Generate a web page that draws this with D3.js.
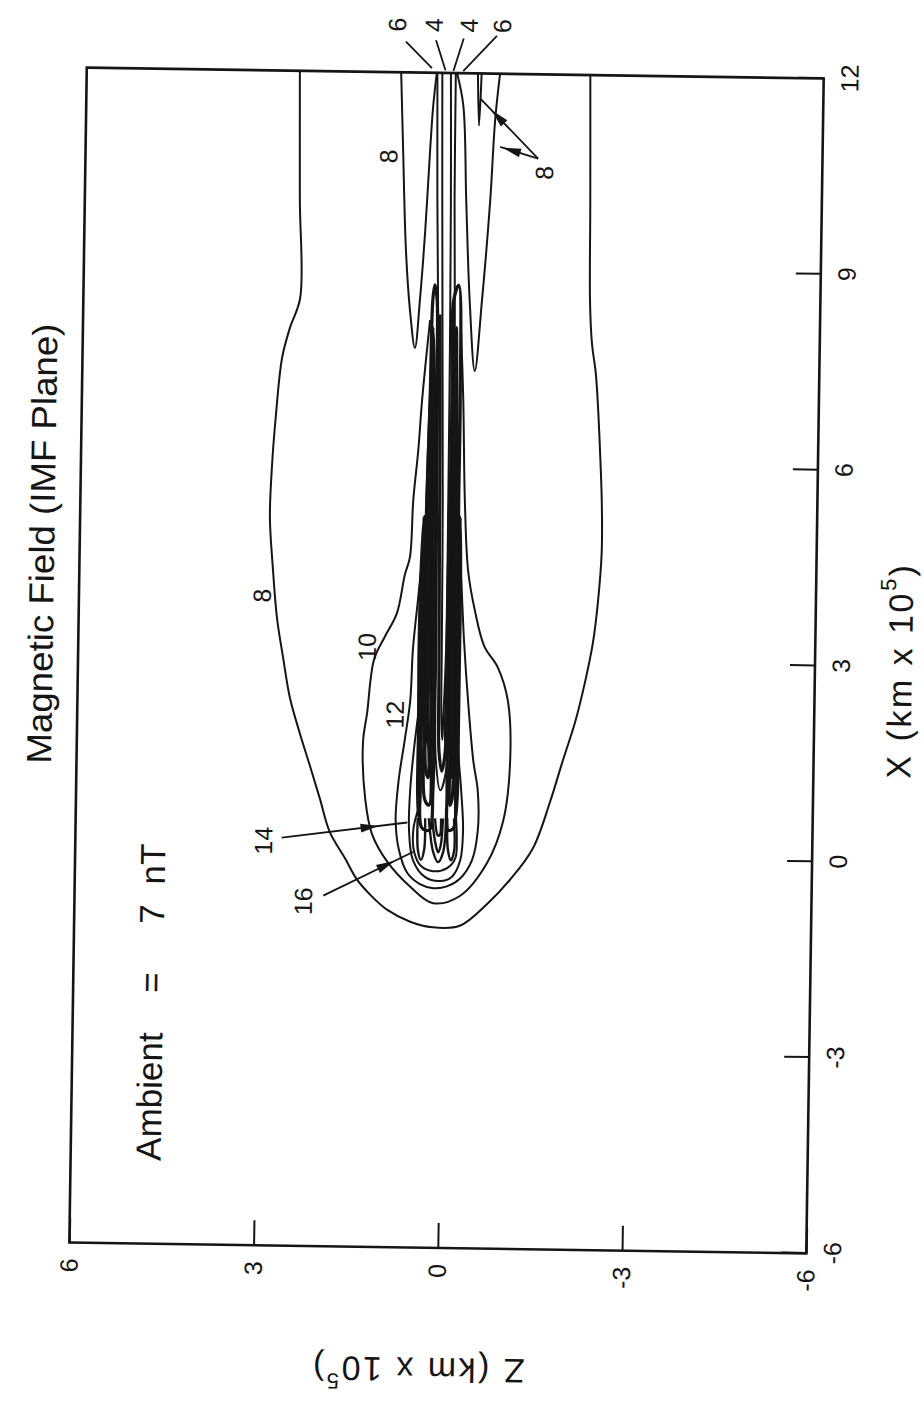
<!DOCTYPE html>
<html>
<head>
<meta charset="utf-8">
<script src="https://cdn.jsdelivr.net/npm/d3@7"></script>
<style>
  body { margin: 0; background: #fff; }
  svg { display: block; }
  text { font-family: "Liberation Sans", Arial, Helvetica, sans-serif; fill: #151515; }
</style>
</head>
<body>
<svg id="chart" width="924" height="1403"></svg>
<script>
// ---- axes ----
const xDomain = [-6, 12];          // X (km x 10^5)
const zDomain = [-6, 6];           // Z (km x 10^5)
const xTicks = [-6, -3, 0, 3, 6, 9, 12];
const zTicks = [-6, -3, 0, 3, 6];

// ---- contour lines of |B| (nT), points are [X, Z] ----
const c8Outer = [[12,2.53],[10.05,2.50],[8.52,2.47],[8.06,2.63],[7.60,2.75],[6.68,2.84],[5.91,2.89],[5.15,2.91],[4.38,2.85],[3.61,2.77],[3.00,2.66],[2.39,2.54],[1.85,2.37],[1.36,2.20],[0.86,2.03],[0.35,1.86],[-0.06,1.60],[-0.37,1.41],[-0.63,1.16],[-0.83,0.91],[-1.01,0.53],[-1.09,0.16],[-1.06,-0.28],[-0.72,-0.72],[-0.34,-1.09],[0.14,-1.45],[0.86,-1.72],[1.47,-1.91],[2.09,-2.11],[2.70,-2.26],[3.31,-2.38],[3.92,-2.45],[4.69,-2.50],[5.45,-2.49],[6.22,-2.45],[6.99,-2.40],[7.44,-2.36],[7.90,-2.29],[8.52,-2.25],[10.05,-2.23],[12,-2.20]];
const c8SpikeL = [[12,0.88],[10.82,0.83],[9.28,0.76],[8.36,0.68],[7.78,0.59],[8.52,0.52],[9.59,0.45],[10.82,0.39],[11.5,0.35],[12,0.30]];
const c8SpikeR = [[12,-0.03],[11.5,-0.14],[10.05,-0.21],[8.52,-0.29],[7.44,-0.39],[8.52,-0.49],[10.05,-0.60],[11.27,-0.66],[12,-0.73]];
const c8Small = [[12,-0.37],[11.2,-0.40],[12,-0.43]];
const c6 = [[12,0.29],[10.05,0.26],[7.75,0.21],[5.45,0.19],[3.16,0.17],[1.47,0.15],[1.01,0.07],[1.32,-0.02],[3.16,-0.05],[5.45,-0.07],[7.75,-0.06],[10.05,-0.02],[12,-0.01]];
const c5 = [[8.3,0.19],[6.5,0.16],[4.5,0.14],[2.8,0.12],[1.6,0.10],[1.3,0.05],[1.6,0.00],[2.8,-0.02],[4.5,-0.03],[6.5,-0.03],[8.3,-0.02]];
const c4 = [[12,0.21],[10.05,0.18],[7.75,0.14],[5.45,0.10],[3.16,0.08],[2.08,0.07],[1.78,0.05],[2.08,0.04],[3.16,0.01],[5.45,0.01],[7.75,0.02],[10.05,0.04],[12,0.07]];
// these wrap the nose and run back into the tail sheet
const c10 = [[8.21,0.35],[6.99,0.46],[6.22,0.51],[5.45,0.58],[4.58,0.62],[4.30,0.70],[3.71,0.82],[3.35,1.01],[3.00,1.18],[2.18,1.28],[1.73,1.34],[0.86,1.29],[0.32,1.17],[-0.09,0.92],[-0.47,0.54],[-0.72,0.16],[-0.60,-0.28],[-0.09,-0.71],[0.55,-0.96],[1.47,-1.06],[2.39,-1.01],[2.90,-0.84],[3.23,-0.61],[3.77,-0.45],[4.38,-0.33],[5.45,-0.26],[6.99,-0.21],[8.21,-0.15]];
const c12 = [[4.69,0.41],[3.92,0.48],[3.16,0.55],[2.39,0.58],[1.78,0.66],[1.16,0.75],[0.55,0.79],[0.09,0.73],[-0.26,0.59],[-0.43,0.38],[-0.49,0.16],[-0.46,-0.06],[-0.34,-0.27],[-0.06,-0.46],[0.40,-0.55],[1.01,-0.54],[1.47,-0.46],[2.39,-0.36],[3.31,-0.28],[4.23,-0.22],[4.69,-0.18]];
const c14 = [[2.39,0.42],[1.62,0.51],[1.01,0.56],[0.40,0.57],[-0.06,0.50],[-0.32,0.30],[-0.38,0.05],[-0.31,-0.14],[-0.06,-0.27],[0.40,-0.31],[1.01,-0.27],[1.62,-0.21],[2.39,-0.16]];
const c16 = [[0.70,0.43],[0.40,0.50],[0.06,0.48],[-0.15,0.37],[-0.23,0.17],[-0.18,-0.06],[-0.03,-0.19],[0.28,-0.21],[0.63,-0.19]];
// lobes of strong field either side of the tail current sheet
const lobeLA = [[8.75,0.28],[8.52,0.31],[6.99,0.33],[5.45,0.36],[3.92,0.38],[2.39,0.39],[1.01,0.40],[0.43,0.36],[0.40,0.24],[1.01,0.19],[2.39,0.19],[3.92,0.20],[5.45,0.23],[6.99,0.23],[8.52,0.24]];
const lobeLB = [[8.1,0.30],[7.29,0.32],[5.91,0.35],[4.53,0.36],[3.16,0.35],[1.78,0.35],[0.86,0.32],[0.78,0.25],[1.78,0.23],[3.16,0.26],[4.53,0.26],[5.91,0.27],[7.29,0.27]];
const lobeLC = [[7.4,0.28],[6.5,0.30],[5.45,0.33],[3.92,0.33],[2.39,0.33],[1.3,0.31],[1.2,0.27],[2.39,0.29],[3.92,0.29],[5.45,0.28],[6.5,0.26]];
const lobeLD = [[6.6,0.25],[5.6,0.27],[4.5,0.30],[3.0,0.31],[1.8,0.30],[1.6,0.22],[3.0,0.22],[4.5,0.22],[5.6,0.21]];
const lobeLE = [[5.2,0.40],[4.2,0.44],[3.0,0.45],[2.0,0.44],[1.0,0.44],[0.6,0.42],[1.0,0.40],[2.0,0.41],[3.0,0.41],[4.2,0.41]];
const lobeRA = [[8.75,-0.11],[6.99,-0.16],[5.45,-0.16],[3.92,-0.17],[2.39,-0.18],[1.01,-0.19],[0.43,-0.15],[0.40,-0.07],[1.01,-0.04],[2.39,-0.03],[3.92,-0.03],[5.45,-0.02],[6.99,-0.03],[8.52,-0.03]];
const lobeRB = [[8.1,-0.08],[7.29,-0.10],[5.91,-0.13],[4.53,-0.13],[3.16,-0.14],[1.78,-0.14],[0.86,-0.12],[0.78,-0.09],[1.78,-0.08],[3.16,-0.07],[4.53,-0.07],[5.91,-0.06],[7.29,-0.05]];
const lobeRC = [[7.4,-0.08],[6.5,-0.09],[5.45,-0.11],[3.92,-0.11],[2.39,-0.12],[1.3,-0.11],[1.2,-0.09],[2.39,-0.09],[3.92,-0.08],[5.45,-0.08],[6.5,-0.06]];
const lobeRD = [[6.6,-0.12],[5.6,-0.14],[4.5,-0.15],[3.0,-0.16],[1.8,-0.16],[1.6,-0.04],[3.0,-0.01],[4.5,-0.01],[5.6,-0.02]];
const lobeRE = [[5.2,-0.19],[4.2,-0.21],[3.0,-0.21],[2.0,-0.21],[1.0,-0.21],[0.6,-0.19],[1.0,-0.18],[2.0,-0.18],[3.0,-0.18],[4.2,-0.18]];
// nested peaks just behind the nose
const f18L = [[0.58,0.43],[0.09,0.42],[-0.06,0.37],[0.09,0.32],[0.58,0.31]];
const f18R = [[0.58,-0.05],[0.09,-0.07],[-0.06,-0.12],[0.09,-0.17],[0.58,-0.16]];
const f18C = [[0.58,0.25],[0.06,0.17],[-0.09,0.09],[0.06,0.01],[0.58,-0.03]];
const f20C = [[0.58,0.20],[0.17,0.13],[0.06,0.09],[0.17,0.05],[0.58,0.02]];
const f22C = [[0.58,0.15],[0.32,0.10],[0.32,0.07],[0.58,0.05]];

const contourSet = [
  { level: 8,  pts: c8Outer,  closed: false },
  { level: 8,  pts: c8SpikeL, closed: false },
  { level: 8,  pts: c8SpikeR, closed: false },
  { level: 8,  pts: c8Small,  closed: false },
  { level: 6,  pts: c6,       closed: false },
  { level: 5,  pts: c5,       closed: false },
  { level: 4,  pts: c4,       closed: false },
  { level: 10, pts: c10,      closed: false },
  { level: 12, pts: c12,      closed: false },
  { level: 14, pts: c14,      closed: false },
  { level: 16, pts: c16,      closed: false },
  { level: 12, pts: lobeLA,   closed: true },
  { level: 14, pts: lobeLB,   closed: true },
  { level: 16, pts: lobeLC,   closed: true },
  { level: 18, pts: lobeLD,   closed: true },
  { level: 13, pts: lobeLE,   closed: true },
  { level: 12, pts: lobeRA,   closed: true },
  { level: 14, pts: lobeRB,   closed: true },
  { level: 16, pts: lobeRC,   closed: true },
  { level: 18, pts: lobeRD,   closed: true },
  { level: 13, pts: lobeRE,   closed: true },
  { level: 18, pts: f18L,     closed: false },
  { level: 18, pts: f18R,     closed: false },
  { level: 18, pts: f18C,     closed: false },
  { level: 20, pts: f20C,     closed: false },
  { level: 22, pts: f22C,     closed: false }
];
// the tail sheet lines are packed so tightly they print as a solid wedge
const tailSheet = new Set([c5, lobeLA, lobeLB, lobeLC, lobeLD, lobeLE, lobeRA, lobeRB, lobeRC, lobeRD, lobeRE]);
const noseCore = new Set([f18L, f18R, f18C, f20C, f22C]);

// ---- layout (the IMF-plane panel is drawn sideways: X runs up the page) ----
const W = 1175, H = 737;
const svg = d3.select('#chart');
const page = svg.append('g').attr('transform', 'rotate(0.85,446,662)');
const g = page.append('g').attr('transform', 'translate(78,1248) rotate(-90)');

const x = d3.scaleLinear().domain(xDomain).range([0, W]);
const z = d3.scaleLinear().domain(zDomain).range([H, 0]);

const ink = '#151515';

const openLine = d3.line().x(d => x(d[0])).y(d => z(d[1])).curve(d3.curveCatmullRom.alpha(0.5));
const closedLine = d3.line().x(d => x(d[0])).y(d => z(d[1])).curve(d3.curveCatmullRomClosed.alpha(0.5));

g.append('clipPath').attr('id', 'plotClip')
  .append('rect').attr('x', 0).attr('y', 0).attr('width', W).attr('height', H);

g.append('g').attr('clip-path', 'url(#plotClip)')
  .selectAll('path').data(contourSet).join('path')
  .attr('d', d => (d.closed ? closedLine : openLine)(d.pts))
  .attr('fill', 'none').attr('stroke', ink)
  .attr('stroke-width', d => tailSheet.has(d.pts) ? 3.2 : noseCore.has(d.pts) ? 2.4 : 2.0)
  .attr('stroke-linejoin', 'round');

// frame
g.append('rect').attr('x', 0).attr('y', 0).attr('width', W).attr('height', H)
  .attr('fill', 'none').attr('stroke', ink).attr('stroke-width', 2.6);

// axes with inward ticks
const fmt = d => String(d);
const xAxisG = g.append('g').attr('transform', `translate(0,${H})`)
  .call(d3.axisBottom(x).tickValues(xTicks).tickSizeInner(-25).tickSizeOuter(0).tickPadding(17).tickFormat(fmt));
const zAxisG = g.append('g')
  .call(d3.axisLeft(z).tickValues(zTicks).tickSizeInner(-25).tickSizeOuter(0).tickPadding(16).tickFormat(fmt));
[xAxisG, zAxisG].forEach(a => {
  a.select('.domain').remove();
  a.attr('font-family', null).attr('font-size', null);
  a.selectAll('line').attr('stroke', ink).attr('stroke-width', 2);
  a.selectAll('text').attr('font-size', 25).attr('fill', ink);
});

// titles
g.append('text').attr('x', x(4.7)).attr('y', -38)
  .attr('text-anchor', 'middle').attr('dominant-baseline', 'central')
  .attr('font-size', 35).attr('textLength', 440).attr('lengthAdjust', 'spacingAndGlyphs')
  .text('Magnetic Field (IMF Plane)');

const amb = g.append('text').attr('y', 77).attr('dominant-baseline', 'central').attr('font-size', 35);
amb.append('tspan').attr('x', x(-4.73)).text('Ambient');
amb.append('tspan').attr('x', x(-2.0)).attr('text-anchor', 'middle').text('=');
amb.append('tspan').attr('x', x(-0.95)).attr('text-anchor', 'middle').text('7');
amb.append('tspan').attr('x', x(-0.5)).text('nT');

function axisTitle(sel, letter) {
  sel.attr('text-anchor', 'middle').attr('dominant-baseline', 'central')
    .attr('font-size', 34).attr('letter-spacing', 2.5);
  sel.append('tspan').text(letter + '\u00A0(km x 10');
  sel.append('tspan').attr('font-size', 22).attr('dy', -13).text('5');
  sel.append('tspan').attr('dy', 13).text(')');
}
axisTitle(g.append('text').attr('x', x(2.95)).attr('y', H + 85), 'X');
axisTitle(g.append('text').attr('transform', `translate(-122,${z(0.3)}) rotate(-90)`), 'Z');

// contour labels
const labelData = [
  { t: '8',  X: 3.95,  Z: 3.02 },
  { t: '10', X: 3.19,  Z: 1.30 },
  { t: '12', X: 2.16,  Z: 0.83 },
  { t: '8',  X: 10.71, Z: 1.07 },
  { t: '8',  X: 10.49, Z: -1.47 },
  { t: '14', X: 0.20,  Z: 2.94 },
  { t: '16', X: -0.72, Z: 2.28 },
  { t: '6',  X: 12.73, Z: 0.96 },
  { t: '4',  X: 12.73, Z: 0.36 },
  { t: '4',  X: 12.73, Z: -0.21 },
  { t: '6',  X: 12.73, Z: -0.75 }
];
g.selectAll('text.clabel').data(labelData).join('text').attr('class', 'clabel')
  .attr('x', d => x(d.X)).attr('y', d => z(d.Z))
  .attr('text-anchor', 'middle').attr('dominant-baseline', 'central')
  .attr('font-size', 25).text(d => d.t);

// leader lines and arrows pointing at contours
const leaders = [
  { from: [12.47, 0.81],  to: [12.07, 0.38],  head: false },
  { from: [12.50, 0.32],  to: [12.04, 0.16],  head: false },
  { from: [12.53, -0.13], to: [12.03, 0.03],  head: false },
  { from: [12.58, -0.67], to: [12.03, -0.13], head: false },
  { from: [10.71, -1.37], to: [11.61, -0.42], head: true },
  { from: [10.71, -1.37], to: [10.88, -0.75], head: true },
  { from: [0.25, 2.64],   to: [0.51, 0.60],   head: true },
  { from: [-0.63, 1.95],  to: [0.06, 0.50],   head: true }
];
const lg = g.append('g');
leaders.forEach(l => {
  const a = [x(l.from[0]), z(l.from[1])], b = [x(l.to[0]), z(l.to[1])];
  lg.append('line').attr('x1', a[0]).attr('y1', a[1]).attr('x2', b[0]).attr('y2', b[1])
    .attr('stroke', ink).attr('stroke-width', 1.8);
  if (l.head) {
    const dx = b[0] - a[0], dy = b[1] - a[1], L = Math.hypot(dx, dy);
    const ux = dx / L, uy = dy / L, t = 0.7, len = 18, w = 4.5;
    const cx = a[0] + dx * t, cy = a[1] + dy * t;
    const tip = [cx + ux * len / 2, cy + uy * len / 2];
    const b1 = [cx - ux * len / 2 - uy * w, cy - uy * len / 2 + ux * w];
    const b2 = [cx - ux * len / 2 + uy * w, cy - uy * len / 2 - ux * w];
    lg.append('path').attr('d', `M${tip}L${b1}L${b2}Z`).attr('fill', ink);
  }
});
</script>
</body>
</html>
